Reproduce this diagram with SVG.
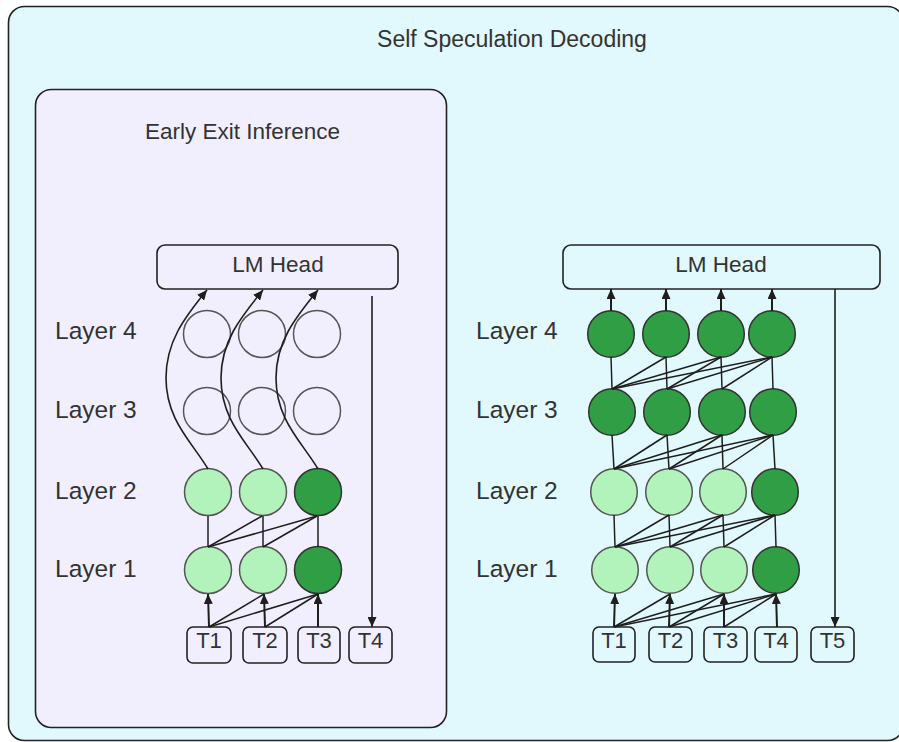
<svg xmlns="http://www.w3.org/2000/svg" width="899" height="742" viewBox="0 0 899 742">
<defs>
<style>
.txt{font-family:"Liberation Sans",Arial,Helvetica,sans-serif;fill:#333;}
.title{font-size:23px;}
.lbl{font-size:24.5px;}
.lm{font-size:22.5px;}
.tok{font-size:22px;}
.box{fill:none;stroke:#222;stroke-width:1.6;}
.tbox{fill:none;stroke:#222;stroke-width:1.6;}
.dark{fill:#2f9e44;stroke:#333;stroke-width:1.5;}
.light{fill:#b2f2bb;stroke:#555;stroke-width:1.5;}
.empty{fill:none;stroke:#555;stroke-width:1.5;}
.e{fill:none;stroke:#1e1e1e;stroke-width:1.5;}
.a{fill:none;stroke:#1e1e1e;stroke-width:2;marker-end:url(#ah);}
.ac{fill:none;stroke:#1e1e1e;stroke-width:1.6;marker-end:url(#ah);}
</style>
<marker id="ah" markerUnits="userSpaceOnUse" markerWidth="10" markerHeight="9" refX="10" refY="4.5" orient="auto">
<path d="M0,0 L10,4.5 L0,9 z" fill="#1e1e1e"/>
</marker>
</defs>

<g id="outer">
<rect x="8.5" y="6.5" width="895" height="734" rx="16" fill="#e1f8fc" stroke="#222" stroke-width="1.6"/>
<text class="txt title" x="512" y="47" text-anchor="middle">Self Speculation Decoding</text>
</g>

<g id="early-exit">
<rect x="35.5" y="89.5" width="411" height="638" rx="16" fill="#f1effd" stroke="#222" stroke-width="1.6"/>
<text class="txt title" x="242.5" y="139" text-anchor="middle" style="font-size:22.5px">Early Exit Inference</text>
</g>

<g id="labels-left">
<text class="txt lbl" x="55" y="339">Layer 4</text>
<text class="txt lbl" x="55" y="418">Layer 3</text>
<text class="txt lbl" x="55" y="499">Layer 2</text>
<text class="txt lbl" x="55" y="577">Layer 1</text>
</g>
<g id="labels-right">
<text class="txt lbl" x="476" y="339">Layer 4</text>
<text class="txt lbl" x="476" y="418">Layer 3</text>
<text class="txt lbl" x="476" y="499">Layer 2</text>
<text class="txt lbl" x="476" y="577">Layer 1</text>
</g>

<g id="lmhead-left">
<rect class="box" x="157" y="245" width="241" height="44" rx="8"/>
<text class="txt lm" x="278" y="272" text-anchor="middle">LM Head</text>
</g>
<g id="lmhead-right">
<rect class="box" x="563" y="245" width="317" height="44" rx="8"/>
<text class="txt lm" x="721" y="272" text-anchor="middle">LM Head</text>
</g>

<!-- Left nodes -->
<g id="L-l4c1"><circle class="empty" cx="207" cy="334" r="23.5"/></g>
<g id="L-l4c2"><circle class="empty" cx="262" cy="334" r="23.5"/></g>
<g id="L-l4c3"><circle class="empty" cx="317" cy="334" r="23.5"/></g>
<g id="L-l3c1"><circle class="empty" cx="207" cy="411" r="23.5"/></g>
<g id="L-l3c2"><circle class="empty" cx="262" cy="411" r="23.5"/></g>
<g id="L-l3c3"><circle class="empty" cx="317" cy="411" r="23.5"/></g>
<g id="L-l2c1"><circle class="light" cx="208" cy="492" r="23.5"/></g>
<g id="L-l2c2"><circle class="light" cx="263" cy="492" r="23.5"/></g>
<g id="L-l2c3"><circle class="dark" cx="318" cy="492" r="23.5"/></g>
<g id="L-l1c1"><circle class="light" cx="208" cy="570" r="23.5"/></g>
<g id="L-l1c2"><circle class="light" cx="263" cy="570" r="23.5"/></g>
<g id="L-l1c3"><circle class="dark" cx="318" cy="570" r="23.5"/></g>

<g id="L-t1"><rect class="tbox" x="187" y="627" width="44" height="36" rx="6"/><text class="txt tok" x="209" y="648" text-anchor="middle">T1</text></g>
<g id="L-t2"><rect class="tbox" x="243" y="627" width="44" height="36" rx="6"/><text class="txt tok" x="265" y="648" text-anchor="middle">T2</text></g>
<g id="L-t3"><rect class="tbox" x="298" y="627" width="42" height="36" rx="6"/><text class="txt tok" x="319" y="648" text-anchor="middle">T3</text></g>
<g id="L-t4"><rect class="tbox" x="349" y="627" width="43" height="36" rx="6"/><text class="txt tok" x="370.5" y="648" text-anchor="middle">T4</text></g>

<!-- Right nodes -->
<g id="R-l4c1"><circle class="dark" cx="611" cy="334" r="23.3"/></g>
<g id="R-l4c2"><circle class="dark" cx="666" cy="334" r="23.3"/></g>
<g id="R-l4c3"><circle class="dark" cx="721" cy="334" r="23.3"/></g>
<g id="R-l4c4"><circle class="dark" cx="772" cy="334" r="23.3"/></g>
<g id="R-l3c1"><circle class="dark" cx="612" cy="412" r="23.3"/></g>
<g id="R-l3c2"><circle class="dark" cx="667" cy="412" r="23.3"/></g>
<g id="R-l3c3"><circle class="dark" cx="722" cy="412" r="23.3"/></g>
<g id="R-l3c4"><circle class="dark" cx="773" cy="412" r="23.3"/></g>
<g id="R-l2c1"><circle class="light" cx="614" cy="492" r="23.3"/></g>
<g id="R-l2c2"><circle class="light" cx="669" cy="492" r="23.3"/></g>
<g id="R-l2c3"><circle class="light" cx="723" cy="492" r="23.3"/></g>
<g id="R-l2c4"><circle class="dark" cx="775" cy="492" r="23.3"/></g>
<g id="R-l1c1"><circle class="light" cx="615" cy="570" r="23.3"/></g>
<g id="R-l1c2"><circle class="light" cx="670" cy="570" r="23.3"/></g>
<g id="R-l1c3"><circle class="light" cx="724" cy="570" r="23.3"/></g>
<g id="R-l1c4"><circle class="dark" cx="776" cy="570" r="23.3"/></g>

<g id="R-t1"><rect class="tbox" x="593" y="627" width="42" height="35" rx="6"/><text class="txt tok" x="614" y="648" text-anchor="middle">T1</text></g>
<g id="R-t2"><rect class="tbox" x="649" y="627" width="43" height="35" rx="6"/><text class="txt tok" x="670.5" y="648" text-anchor="middle">T2</text></g>
<g id="R-t3"><rect class="tbox" x="704" y="627" width="43" height="35" rx="6"/><text class="txt tok" x="725.5" y="648" text-anchor="middle">T3</text></g>
<g id="R-t4"><rect class="tbox" x="755" y="627" width="42" height="35" rx="6"/><text class="txt tok" x="776" y="648" text-anchor="middle">T4</text></g>
<g id="R-t5"><rect class="tbox" x="811" y="627" width="43" height="35" rx="6"/><text class="txt tok" x="832.5" y="648" text-anchor="middle">T5</text></g>

<g id="connectors">
<!-- Left: tokens to layer 1 -->
<line class="a" x1="209" y1="627" x2="208" y2="594"/>
<line class="e" x1="209" y1="627" x2="264" y2="594"/>
<line class="e" x1="209" y1="627" x2="318" y2="594"/>
<line class="a" x1="265" y1="627" x2="264" y2="594"/>
<line class="e" x1="265" y1="627" x2="318" y2="594"/>
<line class="a" x1="318" y1="627" x2="318" y2="594"/>
<!-- Left: layer1 to layer2 -->
<line class="e" x1="208" y1="547" x2="208" y2="516"/>
<line class="e" x1="208" y1="547" x2="262" y2="516"/>
<line class="e" x1="208" y1="547" x2="317" y2="516"/>
<line class="e" x1="263" y1="547" x2="263" y2="516"/>
<line class="e" x1="263" y1="547" x2="317" y2="516"/>
<line class="e" x1="318" y1="547" x2="318" y2="516"/>
<!-- Left: early exit curves -->
<path class="ac" d="M208,469 C192,442 166,420 166,378 C166,342 184,318 207,290"/>
<path class="ac" d="M263,469 C247,442 221,420 221,378 C221,342 240,318 263,290"/>
<path class="ac" d="M318,469 C302,442 276,420 276,378 C276,342 295,318 318,290"/>
<!-- Left: LM head to T4 -->
<line class="ac" x1="372" y1="296" x2="372" y2="627"/>

<!-- Right: tokens to layer 1 -->
<line class="a" x1="614" y1="627" x2="615" y2="594"/>
<line class="e" x1="614" y1="627" x2="670" y2="594"/>
<line class="e" x1="614" y1="627" x2="724" y2="594"/>
<line class="e" x1="614" y1="627" x2="776" y2="594"/>
<line class="a" x1="669" y1="627" x2="670" y2="594"/>
<line class="e" x1="669" y1="627" x2="724" y2="594"/>
<line class="e" x1="669" y1="627" x2="776" y2="594"/>
<line class="a" x1="724" y1="627" x2="724" y2="594"/>
<line class="e" x1="724" y1="627" x2="776" y2="594"/>
<line class="a" x1="777" y1="627" x2="776" y2="594"/>
<!-- Right: layer1 to layer2 -->
<line class="e" x1="615" y1="547" x2="614" y2="515"/>
<line class="e" x1="615" y1="547" x2="669" y2="515"/>
<line class="e" x1="615" y1="547" x2="723" y2="515"/>
<line class="e" x1="615" y1="547" x2="775" y2="515"/>
<line class="e" x1="670" y1="547" x2="669" y2="515"/>
<line class="e" x1="670" y1="547" x2="723" y2="515"/>
<line class="e" x1="670" y1="547" x2="775" y2="515"/>
<line class="e" x1="724" y1="547" x2="723" y2="515"/>
<line class="e" x1="724" y1="547" x2="775" y2="515"/>
<line class="e" x1="776" y1="547" x2="775" y2="515"/>
<!-- Right: layer2 to layer3 -->
<line class="e" x1="614" y1="469" x2="612" y2="435"/>
<line class="e" x1="614" y1="469" x2="667" y2="435"/>
<line class="e" x1="614" y1="469" x2="722" y2="435"/>
<line class="e" x1="614" y1="469" x2="773" y2="435"/>
<line class="e" x1="669" y1="469" x2="667" y2="435"/>
<line class="e" x1="669" y1="469" x2="722" y2="435"/>
<line class="e" x1="669" y1="469" x2="773" y2="435"/>
<line class="e" x1="723" y1="469" x2="722" y2="435"/>
<line class="e" x1="723" y1="469" x2="773" y2="435"/>
<line class="e" x1="775" y1="469" x2="773" y2="435"/>
<!-- Right: layer3 to layer4 -->
<line class="e" x1="612" y1="389" x2="611" y2="357"/>
<line class="e" x1="612" y1="389" x2="666" y2="357"/>
<line class="e" x1="612" y1="389" x2="721" y2="357"/>
<line class="e" x1="612" y1="389" x2="772" y2="357"/>
<line class="e" x1="667" y1="389" x2="666" y2="357"/>
<line class="e" x1="667" y1="389" x2="721" y2="357"/>
<line class="e" x1="667" y1="389" x2="772" y2="357"/>
<line class="e" x1="722" y1="389" x2="721" y2="357"/>
<line class="e" x1="722" y1="389" x2="772" y2="357"/>
<line class="e" x1="773" y1="389" x2="772" y2="357"/>
<!-- Right: layer4 to LM head -->
<line class="a" x1="611" y1="311" x2="611" y2="289"/>
<line class="a" x1="666" y1="311" x2="666" y2="289"/>
<line class="a" x1="721" y1="311" x2="721" y2="289"/>
<line class="a" x1="772" y1="311" x2="772" y2="289"/>
<!-- Right: LM head to T5 -->
<line class="ac" x1="835" y1="289" x2="835" y2="627"/>
</g>
</svg>
